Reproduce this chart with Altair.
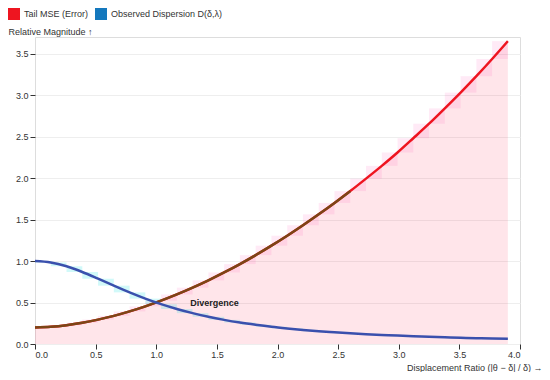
import altair as alt
import pandas as pd

# ---- data ----
x_vals = [0.0, 0.13, 0.26, 0.39, 0.52, 0.65, 0.78, 0.91, 1.04, 1.17, 1.30, 1.43, 1.56, 1.69,
          1.82, 1.95, 2.08, 2.21, 2.34, 2.47, 2.60, 2.73, 2.86, 2.99, 3.12, 3.25, 3.38, 3.51,
          3.64, 3.77, 3.90]
mse_vals = [0.200, 0.208, 0.227, 0.256, 0.294, 0.339, 0.393, 0.454, 0.522, 0.597, 0.679, 0.767,
            0.862, 0.963, 1.071, 1.185, 1.305, 1.431, 1.563, 1.700, 1.843, 1.993, 2.147, 2.308,
            2.480, 2.655, 2.840, 3.030, 3.228, 3.435, 3.650]
disp_vals = [1.000, 0.983, 0.937, 0.868, 0.787, 0.703, 0.622, 0.547, 0.480, 0.422, 0.372, 0.328,
             0.291, 0.259, 0.232, 0.208, 0.188, 0.170, 0.154, 0.141, 0.129, 0.118, 0.109, 0.101,
             0.093, 0.086, 0.080, 0.075, 0.070, 0.066, 0.062]
series_names = ["Tail MSE (Error)", "Observed Dispersion D(δ,λ)"]
x_ticks = [0.0, 0.5, 1.0, 1.5, 2.0, 2.5, 3.0, 3.5, 4.0]
y_ticks = [0.0, 0.5, 1.0, 1.5, 2.0, 2.5, 3.0, 3.5]
brown_end = 2.60
label_text = "Divergence"
label_x = 1.28
label_y = 0.50

RED = "#ee1520"
BLUE_LEG = "#1478bd"
BLUE_LINE = "#3a50ad"
BROWN = "#7b4616"
FONT = "Liberation Sans"

# ---- tables ----
mse_df = pd.DataFrame({"x": x_vals, "y": mse_vals})
disp_df = pd.DataFrame({"x": x_vals, "y": disp_vals})
brown_df = mse_df[mse_df["x"] <= brown_end]


def bands(df):
    b = pd.DataFrame({"x0": df["x"].values[:-1], "x1": df["x"].values[1:],
                      "ya": df["y"].values[:-1], "yb": df["y"].values[1:]})
    b["lo"] = b[["ya", "yb"]].min(axis=1)
    b["hi"] = b[["ya", "yb"]].max(axis=1)
    return b


mse_b = bands(mse_df)
disp_b = bands(disp_df)
legend_df = pd.DataFrame({"series": series_names, "x": [0, 0], "y": [0, 0]})
label_df = pd.DataFrame({"x": [label_x], "y": [label_y], "t": [label_text]})

xscale = alt.Scale(domain=[0, 4], nice=False, zero=False)
yscale = alt.Scale(domain=[0, 3.7], nice=False)
xaxis = alt.Axis(values=x_ticks, format=".1f", grid=False, domain=False, tickSize=5,
                 tickColor="#333", labelColor="#333", labelFontSize=9, labelPadding=1,
                 title="Displacement Ratio (|θ − δ| / δ) →", titleX=507, titleY=28,
                 titleAlign="right", titleBaseline="bottom", titleFontWeight="normal",
                 titleFontSize=9, titleColor="#333")
yaxis = alt.Axis(values=y_ticks, format=".1f", grid=True, gridColor="#eeeeee", domain=False,
                 tickSize=5, tickColor="#333", labelColor="#333", labelFontSize=9,
                 labelPadding=2, title="Relative Magnitude ↑", titleAngle=0, titleX=-27,
                 titleY=-6, titleAlign="left", titleBaseline="middle",
                 titleFontWeight="normal", titleFontSize=9, titleColor="#333")

X = alt.X("x:Q", scale=xscale, axis=xaxis)
Y = alt.Y("y:Q", scale=yscale, axis=yaxis)

area = alt.Chart(mse_df).mark_area(color="#ff0033", opacity=0.1, interpolate="monotone").encode(
    x=X, y=Y, y2=alt.datum(0))

pink_b = alt.Chart(mse_b).mark_rect(color="#ff33aa", opacity=0.1).encode(
    x=alt.X("x0:Q", scale=xscale, axis=xaxis), x2="x1:Q",
    y=alt.Y("lo:Q", scale=yscale, axis=yaxis), y2="hi:Q")

cyan_b = alt.Chart(disp_b).mark_rect(color="#00dede", opacity=0.18).encode(
    x=alt.X("x0:Q", scale=xscale, axis=xaxis), x2="x1:Q",
    y=alt.Y("lo:Q", scale=yscale, axis=yaxis), y2="hi:Q")

red_line = alt.Chart(mse_df).mark_line(color=RED, strokeWidth=2.5, interpolate="monotone").encode(
    x=X, y=Y)
brown_line = alt.Chart(brown_df).mark_line(color=BROWN, strokeWidth=2.5,
                                           interpolate="monotone").encode(x=X, y=Y)
blue_line = alt.Chart(disp_df).mark_line(color=BLUE_LINE, strokeWidth=2.5,
                                         interpolate="monotone").encode(x=X, y=Y)

legend_layer = alt.Chart(legend_df).transform_filter("false").mark_square(
    size=144, opacity=1, filled=True).encode(
    x=X, y=Y,
    color=alt.Color("series:N", scale=alt.Scale(domain=series_names, range=[RED, BLUE_LEG]),
                    legend=alt.Legend(orient="none", legendX=-27, legendY=-29,
                                      direction="horizontal", title=None, symbolType="square",
                                      symbolSize=144, symbolStrokeWidth=0, symbolOpacity=1,
                                      labelFontSize=9, labelColor="#333", labelOffset=4,
                                      columnPadding=6, labelFont=FONT)))

text = alt.Chart(label_df).mark_text(align="left", baseline="middle", fontWeight="bold",
                                     fontSize=9, color="#222", font=FONT).encode(
    x=X, y=Y, text="t:N")

chart = alt.layer(area, pink_b, cyan_b, red_line, brown_line, blue_line, legend_layer, text).properties(
    width=485, height=307,
    autosize=alt.AutoSizeParams(type="none"),
    padding={"left": 27, "top": 29, "right": 22, "bottom": 28},
).configure_view(stroke=None).configure(font=FONT)

chart.save("out.html", embed_options={"renderer": "svg", "actions": False})
